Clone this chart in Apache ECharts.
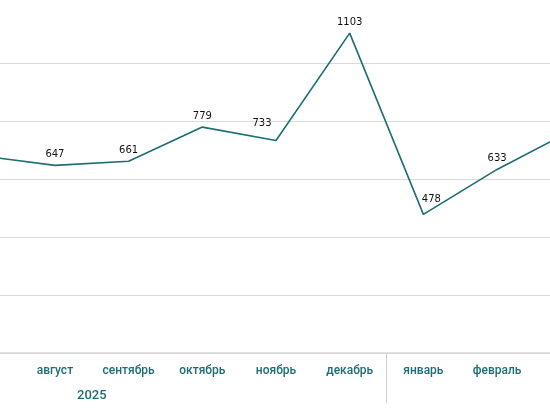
<!DOCTYPE html>
<html>
<head>
<meta charset="utf-8">
<script src="https://cdn.jsdelivr.net/npm/echarts@6/dist/echarts.min.js"></script>
<style>
  html, body { margin: 0; padding: 0; background: #fff; }
  #chart { width: 550px; height: 410px; }
</style>
</head>
<body>
<div id="chart"></div>
<script>
// months shown on the axis (the chart is a window onto a wider timeline)
const months = ['май', 'июнь', 'июль', 'август', 'сентябрь', 'октябрь', 'ноябрь', 'декабрь', 'январь', 'февраль', 'март', 'апрель', 'май'];
const values = [null, null, 680, 647, 661, 779, 733, 1103, 478, 633, 765, null, null];
const years = ['2025', '2026'];
const yearFirst = [0, 8];
const yearLast = [7, 12];

const TEAL = '#1c6d75';
const chart = echarts.init(document.getElementById('chart'));

// nudge a couple of labels off the line, like the original
const labelShift = { 6: [-14, -6], 8: [8, -4] };

chart.setOption({
  animation: false,
  grid: { left: -203, right: -205, top: 5, bottom: 57, outerBoundsMode: 'none' },
  xAxis: {
    type: 'category',
    data: months,
    boundaryGap: true,
    axisLine: { lineStyle: { color: '#d6d6d6', width: 1.5 } },
    axisTick: {
      show: true,
      // year boundaries only (first one sits off-canvas)
      interval: (i) => yearFirst.includes(i),
      length: 50,
      lineStyle: { color: '#cfcfcf', width: 1 }
    },
    axisLabel: {
      color: TEAL,
      fontFamily: 'Roboto',
      fontSize: 12,
      fontWeight: 500,
      margin: 12,
      interval: 0
    }
  },
  yAxis: {
    type: 'value',
    min: 0,
    max: 1200,
    interval: 200,
    axisLabel: { show: false },
    axisLine: { show: false },
    axisTick: { show: false },
    splitLine: { showMaxLine: false, lineStyle: { color: '#dadada', width: 1 } }
  },
  series: [{
    type: 'line',
    data: values.map((v, i) => labelShift[i] ? { value: v, label: { offset: labelShift[i] } } : v),
    symbol: 'circle',
    symbolSize: 2,
    showSymbol: true,
    itemStyle: { color: 'rgba(0,0,0,0)', borderWidth: 0 },
    lineStyle: { color: TEAL, width: 1.6 },
    label: {
      show: true,
      position: 'top',
      distance: 5,
      color: '#111',
      fontFamily: 'DejaVu Sans',
      fontSize: 10
    }
  }]
});

// year captions centred under each year's run of months
const graphics = years.map((y, k) => {
  const x0 = chart.convertToPixel({ xAxisIndex: 0 }, yearFirst[k]);
  const x1 = chart.convertToPixel({ xAxisIndex: 0 }, yearLast[k]);
  return {
    type: 'text',
    x: (x0 + x1) / 2,
    y: 396,
    style: {
      text: y,
      fill: TEAL,
      font: '500 13px Roboto',
      align: 'center',
      verticalAlign: 'middle'
    }
  };
});
chart.setOption({ graphic: graphics });
</script>
</body>
</html>
